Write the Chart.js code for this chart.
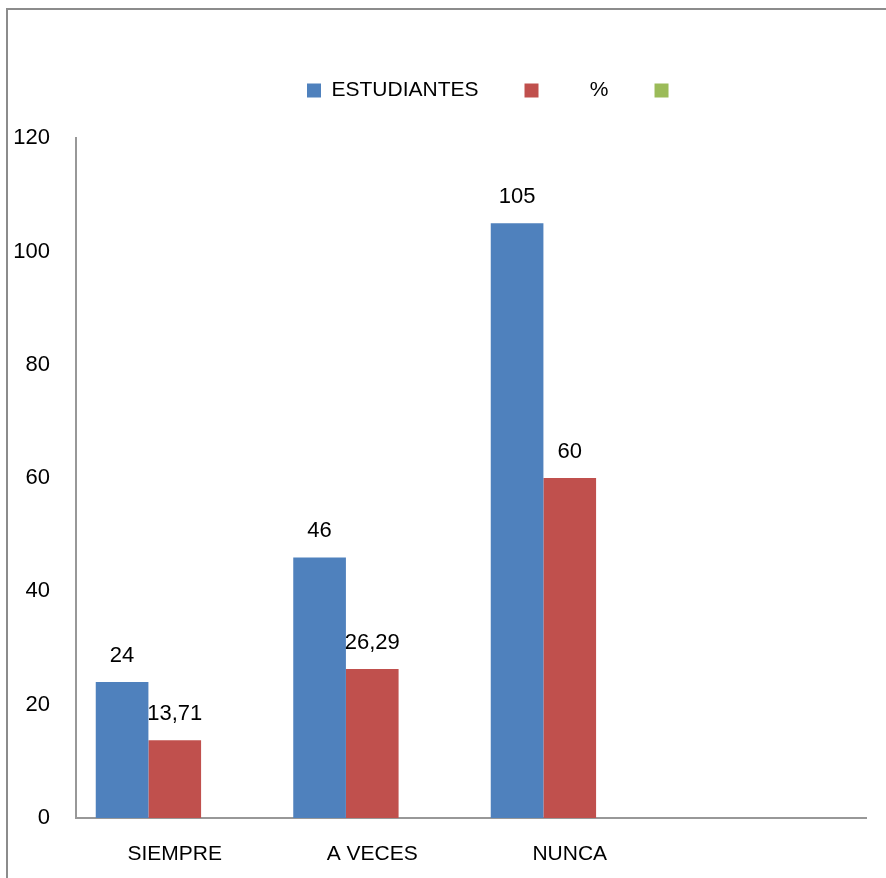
<!DOCTYPE html>
<html>
<head>
<meta charset="utf-8">
<script src="https://cdn.jsdelivr.net/npm/chart.js@4/dist/chart.umd.min.js"></script>
<style>
  html, body { margin: 0; padding: 0; background: #fff; overflow: hidden; }
  #wrap { position: relative; width: 886px; height: 878px; }
  #frame {
    position: absolute; left: 6px; top: 8px; width: 1000px; height: 1000px;
    border-left: 2px solid #8c8c8c; border-top: 2px solid #8c8c8c;
  }
  canvas { position: absolute; left: 0; top: 0; }
</style>
</head>
<body>
<div id="wrap">
  <div id="frame"></div>
  <canvas id="chart" width="886" height="878"></canvas>
</div>
<script>
const categories = ["SIEMPRE", "A VECES", "NUNCA", ""];
const estudiantes = [24, 46, 105, null];
const porcentaje = [13.71, 26.29, 60, null];
const vacio = [null, null, null, null];
const yTicks = [0, 20, 40, 60, 80, 100, 120];

const FONT = "'Liberation Sans', Arial, sans-serif";

// value labels above each bar, decimal comma
const barLabels = {
  id: "barLabels",
  afterDatasetsDraw(chart) {
    const ctx = chart.ctx;
    ctx.save();
    ctx.font = "22px " + FONT;
    ctx.fillStyle = "#000";
    ctx.textAlign = "center";
    ctx.textBaseline = "middle";
    chart.data.datasets.forEach((ds, i) => {
      const meta = chart.getDatasetMeta(i);
      meta.data.forEach((bar, j) => {
        const v = ds.data[j];
        if (v === null || v === undefined) return;
        ctx.fillText(String(v).replace(".", ","), bar.x, bar.y - 26);
      });
    });
    ctx.restore();
  }
};

// push the legend row to the right a bit
const legendShift = {
  id: "legendShift",
  afterLayout(chart) {
    chart.legend.left += 57;
    chart.legend.right += 57;
  }
};

new Chart(document.getElementById("chart"), {
  type: "bar",
  data: {
    labels: categories,
    datasets: [
      { label: "ESTUDIANTES", data: estudiantes, backgroundColor: "#4F81BD" },
      { label: "       %", data: porcentaje, backgroundColor: "#C0504D" },
      { label: "", data: vacio, backgroundColor: "#9BBB59" }
    ]
  },
  options: {
    responsive: false,
    animation: false,
    layout: { padding: { left: 6, right: 20, top: 34, bottom: 0 } },
    datasets: { bar: { categoryPercentage: 0.8, barPercentage: 1.0 } },
    plugins: {
      legend: {
        position: "top",
        labels: {
          boxWidth: 14, boxHeight: 14, padding: 46, color: "#000",
          font: { size: 21, family: FONT }
        }
      },
      // empty title used as a gap between legend and plot
      title: { display: true, text: "", weight: 500, padding: { top: 0, bottom: 26 }, font: { size: 1 } },
      tooltip: { enabled: false }
    },
    scales: {
      x: {
        grid: { display: false },
        border: { display: true, color: "#989898", width: 2 },
        ticks: { color: "#000", padding: 16, font: { size: 21, family: FONT } },
        afterFit: s => { s.height = 60; }
      },
      y: {
        min: 0, max: 120,
        afterBuildTicks: s => { s.ticks = yTicks.map(v => ({ value: v })); },
        grid: { display: false },
        border: { display: true, color: "#989898", width: 2 },
        ticks: { color: "#000", padding: 18, font: { size: 22, family: FONT } },
        afterFit: s => { s.width = 70; }
      }
    }
  },
  plugins: [barLabels, legendShift]
});
</script>
</body>
</html>
